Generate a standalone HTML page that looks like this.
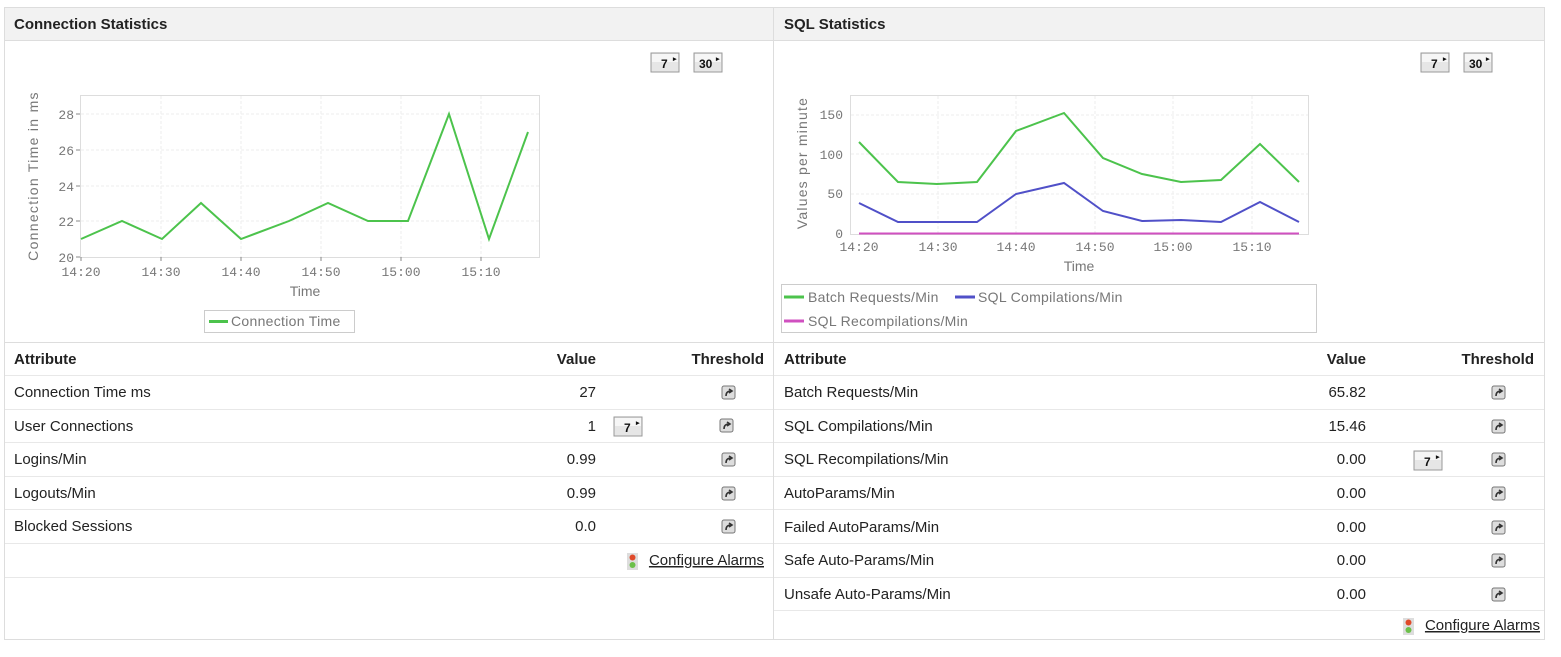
<!DOCTYPE html>
<html><head><meta charset="utf-8"><style>
body{margin:0;background:#fff;width:1561px;height:657px;overflow:hidden}
svg{display:block;font-family:"Liberation Sans",sans-serif}
</style></head><body>
<svg width="1561" height="657" viewBox="0 0 1561 657">
<defs>
<g id="btn"><rect x="0" y="0" width="28" height="19" fill="#e6e6e6" stroke="#999"/><rect x="1" y="1" width="26" height="8" fill="#f6f6f6"/></g>
<g id="ico"><rect x="0" y="0" width="13" height="13" rx="2" fill="#ddd" stroke="#777"/><path d="M4 10 Q4 5 9 5 M7 3 L10 5 L7 7" stroke="#333" stroke-width="1.6" fill="none"/></g>
<g id="alarm"><rect x="0" y="0" width="11" height="17" fill="#ddd"/><circle cx="5.5" cy="4.5" r="3" fill="#e04a2a"/><circle cx="5.5" cy="12" r="3" fill="#6cc04a"/></g>
</defs>
<rect x="4.5" y="7.5" width="1540" height="632" fill="#fff" stroke="#ddd"/>
<rect x="5" y="8" width="1539" height="32" fill="#f2f2f2"/>
<line x1="4" y1="40.5" x2="1545" y2="40.5" stroke="#ddd"/>
<line x1="773.5" y1="8" x2="773.5" y2="640" stroke="#ddd"/>
<text x="14" y="29" font-size="15" font-weight="bold" fill="#222">Connection Statistics</text>
<text x="784" y="29" font-size="15" font-weight="bold" fill="#222">SQL Statistics</text>
<line x1="4" y1="342.5" x2="1545" y2="342.5" stroke="#ddd"/>

<g font-size="12" font-weight="bold" fill="#111">
<use href="#btn" x="651" y="53"/><text x="661" y="68">7</text><text x="673" y="61" font-size="7">▸</text>
<use href="#btn" x="694" y="53"/><text x="699" y="68">30</text><text x="716" y="61" font-size="7">▸</text>
<use href="#btn" x="1421" y="53"/><text x="1431" y="68">7</text><text x="1443" y="61" font-size="7">▸</text>
<use href="#btn" x="1464" y="53"/><text x="1469" y="68">30</text><text x="1486" y="61" font-size="7">▸</text>
</g>

<!-- Left chart -->
<rect x="80.5" y="95.5" width="459" height="162" fill="#fff" stroke="#ddd"/>
<g stroke="#eee" stroke-dasharray="3,2">
<line x1="81" y1="114" x2="539" y2="114"/><line x1="81" y1="150" x2="539" y2="150"/><line x1="81" y1="186" x2="539" y2="186"/><line x1="81" y1="221" x2="539" y2="221"/>
<line x1="161" y1="96" x2="161" y2="257"/><line x1="241" y1="96" x2="241" y2="257"/><line x1="321" y1="96" x2="321" y2="257"/><line x1="401" y1="96" x2="401" y2="257"/><line x1="481" y1="96" x2="481" y2="257"/>
</g>
<g stroke="#888"><line x1="76" y1="257" x2="80" y2="257"/><line x1="76" y1="221" x2="80" y2="221"/><line x1="76" y1="186" x2="80" y2="186"/><line x1="76" y1="150" x2="80" y2="150"/><line x1="76" y1="114" x2="80" y2="114"/>
<line x1="81" y1="257" x2="81" y2="261"/><line x1="161" y1="257" x2="161" y2="261"/><line x1="241" y1="257" x2="241" y2="261"/><line x1="321" y1="257" x2="321" y2="261"/><line x1="401" y1="257" x2="401" y2="261"/><line x1="481" y1="257" x2="481" y2="261"/></g>
<g font-family="Liberation Mono,monospace" font-size="13" fill="#777" text-anchor="end">
<text x="74" y="262">20</text><text x="74" y="226">22</text><text x="74" y="191">24</text><text x="74" y="155">26</text><text x="74" y="119">28</text></g>
<g font-family="Liberation Mono,monospace" font-size="13" fill="#777" text-anchor="middle">
<text x="81" y="276">14:20</text><text x="161" y="276">14:30</text><text x="241" y="276">14:40</text><text x="321" y="276">14:50</text><text x="401" y="276">15:00</text><text x="481" y="276">15:10</text></g>
<text x="305" y="296" font-size="14" fill="#777" text-anchor="middle">Time</text>
<text transform="translate(38,176) rotate(-90)" font-size="14" fill="#777" text-anchor="middle" letter-spacing="1.3">Connection Time in ms</text>
<polyline fill="none" stroke="#4cc34c" stroke-width="2" points="81,239 122,221 162,239 201,203 241,239 289,221 328,203 368,221 408,221 449,114 489,239 528,132"/>
<rect x="204.5" y="310.5" width="150" height="22" fill="#fff" stroke="#ccc"/>
<line x1="209" y1="321.5" x2="228" y2="321.5" stroke="#4cc34c" stroke-width="3"/>
<text x="231" y="326" font-size="14" fill="#777" letter-spacing="0.3">Connection Time</text>

<!-- Right chart -->
<rect x="850.5" y="95.5" width="458" height="139" fill="#fff" stroke="#ddd"/>
<g stroke="#eee" stroke-dasharray="3,2">
<line x1="851" y1="115" x2="1308" y2="115"/><line x1="851" y1="154" x2="1308" y2="154"/><line x1="851" y1="194" x2="1308" y2="194"/>
<line x1="938" y1="96" x2="938" y2="234"/><line x1="1016" y1="96" x2="1016" y2="234"/><line x1="1095" y1="96" x2="1095" y2="234"/><line x1="1173" y1="96" x2="1173" y2="234"/><line x1="1252" y1="96" x2="1252" y2="234"/>
</g>
<g font-family="Liberation Mono,monospace" font-size="13" fill="#777" text-anchor="end">
<text x="843" y="238">0</text><text x="843" y="198">50</text><text x="843" y="159">100</text><text x="843" y="119">150</text></g>
<g font-family="Liberation Mono,monospace" font-size="13" fill="#777" text-anchor="middle">
<text x="859" y="251">14:20</text><text x="938" y="251">14:30</text><text x="1016" y="251">14:40</text><text x="1095" y="251">14:50</text><text x="1173" y="251">15:00</text><text x="1252" y="251">15:10</text></g>
<text x="1079" y="271" font-size="14" fill="#777" text-anchor="middle">Time</text>
<text transform="translate(807,163) rotate(-90)" font-size="14" fill="#777" text-anchor="middle" letter-spacing="1.2">Values per minute</text>
<polyline fill="none" stroke="#4cc34c" stroke-width="2" points="859,142 898,182 937,184 977,182 1016,131 1064,113 1103,158 1142,174 1181,182 1221,180 1260,144 1299,182"/>
<polyline fill="none" stroke="#5050c8" stroke-width="2" points="859,203 898,222 937,222 977,222 1016,194 1064,183 1103,211 1142,221 1181,220 1221,222 1260,202 1299,222"/>
<line x1="859" y1="233.5" x2="1299" y2="233.5" stroke="#d050c0" stroke-width="2"/>
<rect x="781.5" y="284.5" width="535" height="48" fill="#fff" stroke="#ccc"/>
<line x1="784" y1="297" x2="804" y2="297" stroke="#4cc34c" stroke-width="3"/>
<text x="808" y="302" font-size="14" fill="#777" letter-spacing="0.3">Batch Requests/Min</text>
<line x1="955" y1="297" x2="975" y2="297" stroke="#5050c8" stroke-width="3"/>
<text x="978" y="302" font-size="14" fill="#777" letter-spacing="0.3">SQL Compilations/Min</text>
<line x1="784" y1="321" x2="804" y2="321" stroke="#d050c0" stroke-width="3"/>
<text x="808" y="326" font-size="14" fill="#777" letter-spacing="0.3">SQL Recompilations/Min</text>

<!-- Tables -->
<g stroke="#e8e8e8">
<line x1="5" y1="375.5" x2="773" y2="375.5"/><line x1="5" y1="409.5" x2="773" y2="409.5"/><line x1="5" y1="442.5" x2="773" y2="442.5"/><line x1="5" y1="476.5" x2="773" y2="476.5"/><line x1="5" y1="509.5" x2="773" y2="509.5"/><line x1="5" y1="543.5" x2="773" y2="543.5"/><line x1="5" y1="577.5" x2="773" y2="577.5"/>
<line x1="774" y1="375.5" x2="1544" y2="375.5"/><line x1="774" y1="409.5" x2="1544" y2="409.5"/><line x1="774" y1="442.5" x2="1544" y2="442.5"/><line x1="774" y1="476.5" x2="1544" y2="476.5"/><line x1="774" y1="509.5" x2="1544" y2="509.5"/><line x1="774" y1="543.5" x2="1544" y2="543.5"/><line x1="774" y1="577.5" x2="1544" y2="577.5"/><line x1="774" y1="610.5" x2="1544" y2="610.5"/>
</g>
<g font-size="15" fill="#222">
<text x="14" y="364" font-weight="bold">Attribute</text><text x="596" y="364" font-weight="bold" text-anchor="end">Value</text><text x="764" y="364" font-weight="bold" text-anchor="end">Threshold</text>
<text x="14" y="397">Connection Time ms</text><text x="596" y="397" text-anchor="end">27</text>
<text x="14" y="431">User Connections</text><text x="596" y="431" text-anchor="end">1</text>
<text x="14" y="464">Logins/Min</text><text x="596" y="464" text-anchor="end">0.99</text>
<text x="14" y="498">Logouts/Min</text><text x="596" y="498" text-anchor="end">0.99</text>
<text x="14" y="531">Blocked Sessions</text><text x="596" y="531" text-anchor="end">0.0</text>
<text x="764" y="565" text-anchor="end" text-decoration="underline">Configure Alarms</text>
<text x="784" y="364" font-weight="bold">Attribute</text><text x="1366" y="364" font-weight="bold" text-anchor="end">Value</text><text x="1534" y="364" font-weight="bold" text-anchor="end">Threshold</text>
<text x="784" y="397">Batch Requests/Min</text><text x="1366" y="397" text-anchor="end">65.82</text>
<text x="784" y="431">SQL Compilations/Min</text><text x="1366" y="431" text-anchor="end">15.46</text>
<text x="784" y="464">SQL Recompilations/Min</text><text x="1366" y="464" text-anchor="end">0.00</text>
<text x="784" y="498">AutoParams/Min</text><text x="1366" y="498" text-anchor="end">0.00</text>
<text x="784" y="532">Failed AutoParams/Min</text><text x="1366" y="532" text-anchor="end">0.00</text>
<text x="784" y="565">Safe Auto-Params/Min</text><text x="1366" y="565" text-anchor="end">0.00</text>
<text x="784" y="599">Unsafe Auto-Params/Min</text><text x="1366" y="599" text-anchor="end">0.00</text>
<text x="1540" y="630" text-anchor="end" text-decoration="underline">Configure Alarms</text>
</g>
<use href="#alarm" x="627" y="553"/><use href="#alarm" x="1403" y="618"/>
<g font-size="12" font-weight="bold" fill="#111">
<use href="#btn" x="614" y="417"/><text x="624" y="432">7</text><text x="636" y="425" font-size="7">▸</text>
<use href="#btn" x="1414" y="451"/><text x="1424" y="466">7</text><text x="1436" y="459" font-size="7">▸</text>
</g>
<use href="#ico" x="722" y="386"/><use href="#ico" x="720" y="419"/><use href="#ico" x="722" y="453"/><use href="#ico" x="722" y="487"/><use href="#ico" x="722" y="520"/>
<use href="#ico" x="1492" y="386"/><use href="#ico" x="1492" y="420"/><use href="#ico" x="1492" y="453"/><use href="#ico" x="1492" y="487"/><use href="#ico" x="1492" y="521"/><use href="#ico" x="1492" y="554"/><use href="#ico" x="1492" y="588"/>
</svg>
</body></html>
